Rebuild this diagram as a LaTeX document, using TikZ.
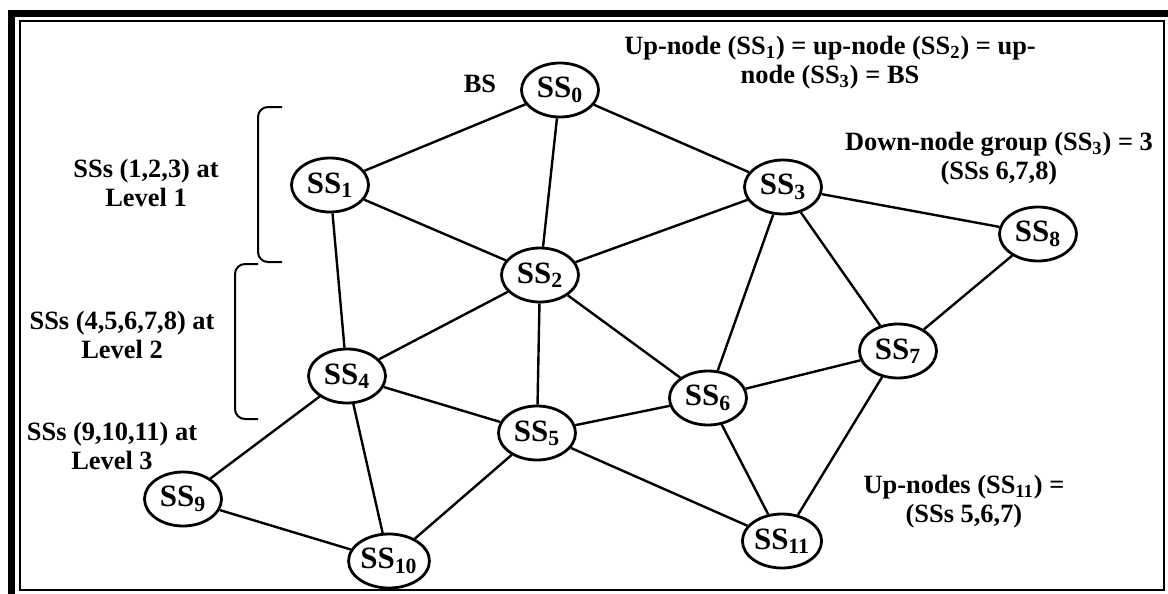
\documentclass[tikz,border=0pt]{standalone}
\usepackage{fontspec}
\setmainfont{Liberation Serif}
\usetikzlibrary{shapes.geometric}

\begin{document}
\begin{tikzpicture}[x=0.5pt, y=-0.5pt,
  ss/.style={draw, ellipse, line width=1.4pt, minimum width=38.5pt, minimum height=27pt, inner sep=0pt, font=\fontsize{15.5}{16}\selectfont\bfseries},
  note/.style={align=center, inner sep=0pt, font=\fontsize{13.2}{14.5}\selectfont\bfseries},
  link/.style={line width=1.2pt},
  brace/.style={line width=1pt, rounded corners=5pt}]

\useasboundingbox (0,0) rectangle (1168,594);

% frame
\draw[line width=3.5pt] (11.5,594) -- (11.5,13.5) -- (1168,13.5);
\draw[line width=1pt] (20,20.5) rectangle (1164,590);

% subscriber stations
\node[ss] (ss0) at (560,90) {SS\textsubscript{0}};
\node[ss] (ss1) at (330,185) {SS\textsubscript{1}};
\node[ss] (ss3) at (783,187) {SS\textsubscript{3}};
\node[ss] (ss2) at (540,275) {SS\textsubscript{2}};
\node[ss] (ss8) at (1038,234) {SS\textsubscript{8}};
\node[ss] (ss4) at (347,376) {SS\textsubscript{4}};
\node[ss] (ss5) at (537,433) {SS\textsubscript{5}};
\node[ss] (ss6) at (708,398) {SS\textsubscript{6}};
\node[ss] (ss7) at (898,351) {SS\textsubscript{7}};
\node[ss] (ss9) at (183,499) {SS\textsubscript{9}};
\node[ss] (ss10) at (389,561) {SS\textsubscript{10}};
\node[ss] (ss11) at (782,541) {SS\textsubscript{11}};

% links
\draw[link] (ss0) -- (ss1);
\draw[link] (ss0) -- (ss2);
\draw[link] (ss0) -- (ss3);
\draw[link] (ss1) -- (ss2);
\draw[link] (ss1) -- (ss4);
\draw[link] (ss2) -- (ss3);
\draw[link] (ss2) -- (ss4);
\draw[link] (ss2) -- (ss5);
\draw[link] (ss2) -- (ss6);
\draw[link] (ss3) -- (ss6);
\draw[link] (ss3) -- (ss7);
\draw[link] (ss3) -- (ss8);
\draw[link] (ss8) -- (ss7);
\draw[link] (ss7) -- (ss6);
\draw[link] (ss7) -- (ss11);
\draw[link] (ss6) -- (ss5);
\draw[link] (ss6) -- (ss11);
\draw[link] (ss5) -- (ss4);
\draw[link] (ss5) -- (ss10);
\draw[link] (ss5) -- (ss11);
\draw[link] (ss4) -- (ss9);
\draw[link] (ss4) -- (ss10);
\draw[link] (ss9) -- (ss10);

% level brackets
\draw[brace] (282,107) -- (258,107) -- (258,262) -- (282,262);
\draw[brace] (258,264) -- (235,264) -- (235,419) -- (258,419);

% annotations
\node[note] (bs) at (480,84) {BS};
\node[note] (upbs) at (830,63) {Up-node (SS\textsubscript{1}) = up-node (SS\textsubscript{2}) = up-\\node (SS\textsubscript{3}) = BS};
\node[note] (down3) at (999,159) {Down-node group (SS\textsubscript{3}) = 3\\(SSs 6,7,8)};
\node[note] (up11) at (964,502) {Up-nodes (SS\textsubscript{11}) =\\(SSs 5,6,7)};
\node[note] (lev1) at (146,183) {SSs (1,2,3) at\\Level 1};
\node[note] (lev2) at (122,335) {SSs (4,5,6,7,8) at\\Level 2};
\node[note] (lev3) at (112,446) {SSs (9,10,11) at\\Level 3};
\end{tikzpicture}
\end{document}
